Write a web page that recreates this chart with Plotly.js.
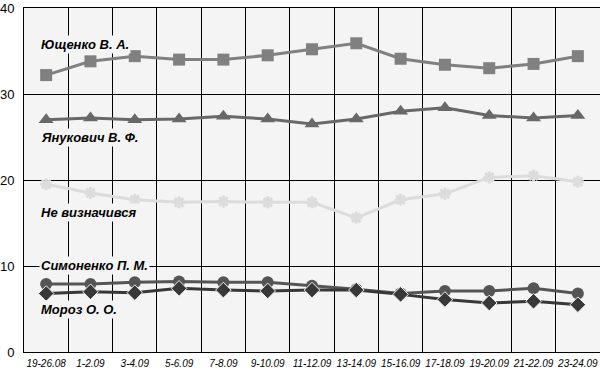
<!DOCTYPE html>
<html>
<head>
<meta charset="utf-8">
<script src="https://cdn.plot.ly/plotly-3.0.1.min.js"></script>
<style>html,body{margin:0;padding:0;background:#fff;}#chart{width:600px;height:371px;}</style>
</head>
<body>
<div id="chart"></div>
<script>
const categories = ["19-26.08","1-2.09","3-4.09","5-6.09","7-8.09","9-10.09","11-12.09","13-14.09","15-16.09","17-18.09","19-20.09","21-22.09","23-24.09"];
const yushchenko = [32.2,33.8,34.4,34.0,34.0,34.5,35.2,35.9,34.1,33.4,33.0,33.5,34.4];
const yanukovych = [27.0,27.2,27.0,27.1,27.4,27.1,26.5,27.1,28.0,28.4,27.5,27.2,27.5];
const undecided  = [19.5,18.5,17.7,17.4,17.5,17.4,17.4,15.6,17.7,18.4,20.3,20.5,19.8];
const symonenko  = [7.9,7.9,8.1,8.2,8.1,8.1,7.7,7.3,6.8,7.1,7.1,7.4,6.8];
const moroz      = [6.8,7.0,6.9,7.4,7.2,7.1,7.2,7.2,6.7,6.1,5.7,5.9,5.5];
const seriesNames = ["Ющенко В. А.","Янукович В. Ф.","Не визначився","Симоненко П. М.","Мороз О. О."];
const yTicks = [0,10,20,30,40];

const idx = categories.map((c,i)=>i);
// category boundaries drawn as vertical grid lines (one is absent in the original)
const boundaries = [0.5,1.5,2.5,3.5,4.5,5.5,6.5,7.5,8.5,10.5,11.5];

function tr(y, color, symbol, size, lw, mline){
  return {x: idx, y: y, xaxis:'x2', yaxis:'y', type:'scatter', mode:'lines+markers',
    line:{color: color, width: lw},
    marker:{symbol: symbol, size: size, color: color, line:{color: mline||color, width: mline?1:0}},
    showlegend:false, hoverinfo:'skip', cliponaxis:false};
}
const data = [
  {x:[], y:[], xaxis:'x', yaxis:'y', type:'scatter', showlegend:false},
  tr(undecided, '#dcdcdc', 'asterisk-open', 10, 3),
  tr(yushchenko, '#808080', 'square', 12, 3),
  tr(yanukovych, '#686868', 'triangle-up', 13, 3),
  tr(symonenko, '#555555', 'circle', 12, 3),
  tr(moroz, '#383838', 'diamond', 12, 3, '#f4f4f4')
];
data[1].marker.line = {color:'#dcdcdc', width:3};

const labelFont = {family:'"Liberation Sans", Arial, sans-serif', size:13, color:'#000', style:'italic', weight:'bold'};
const labelY = [35.7, 25.0, 16.2, 10.05, 4.9];
const annotations = seriesNames.map((n,i)=>({
  text: n, xref:'paper', yref:'y', x: 0.026, y: labelY[i], xanchor:'left', yanchor:'middle',
  showarrow:false, font: labelFont, bgcolor:'#f4f4f4', borderpad:1
}));

const layout = {
  width:600, height:371,
  margin:{l:24, r:0, t:8, b:19, pad:0},
  paper_bgcolor:'#ffffff', plot_bgcolor:'#f4f4f4',
  xaxis:{range:[-0.5,12.5], tickmode:'array', tickvals: boundaries, showticklabels:false,
    showgrid:true, gridcolor:'#000', gridwidth:1, zeroline:false, showline:true, mirror:true, linecolor:'#000', linewidth:1, ticks:''},
  xaxis2:{range:[-0.5,12.5], overlaying:'x', side:'bottom', tickmode:'array', tickvals: idx, ticktext: categories,
    showgrid:false, zeroline:false, showline:false, ticks:'', ticklabelstandoff:4,
    tickfont:{family:'"Liberation Sans Narrow", "Liberation Sans", Arial, sans-serif', size:10, color:'#000', style:'italic'}},
  yaxis:{range:[0,40], tickmode:'array', tickvals: yTicks, showgrid:true, gridcolor:'#000', gridwidth:1,
    zeroline:false, showline:true, linecolor:'#000', linewidth:1, ticks:'', ticklabelstandoff:6,
    tickfont:{family:'"Liberation Sans Narrow", "Liberation Sans", Arial, sans-serif', size:13, color:'#000'}},
  annotations: annotations,
  showlegend:false
};
Plotly.newPlot('chart', data, layout, {displayModeBar:false, staticPlot:true});
</script>
</body>
</html>
